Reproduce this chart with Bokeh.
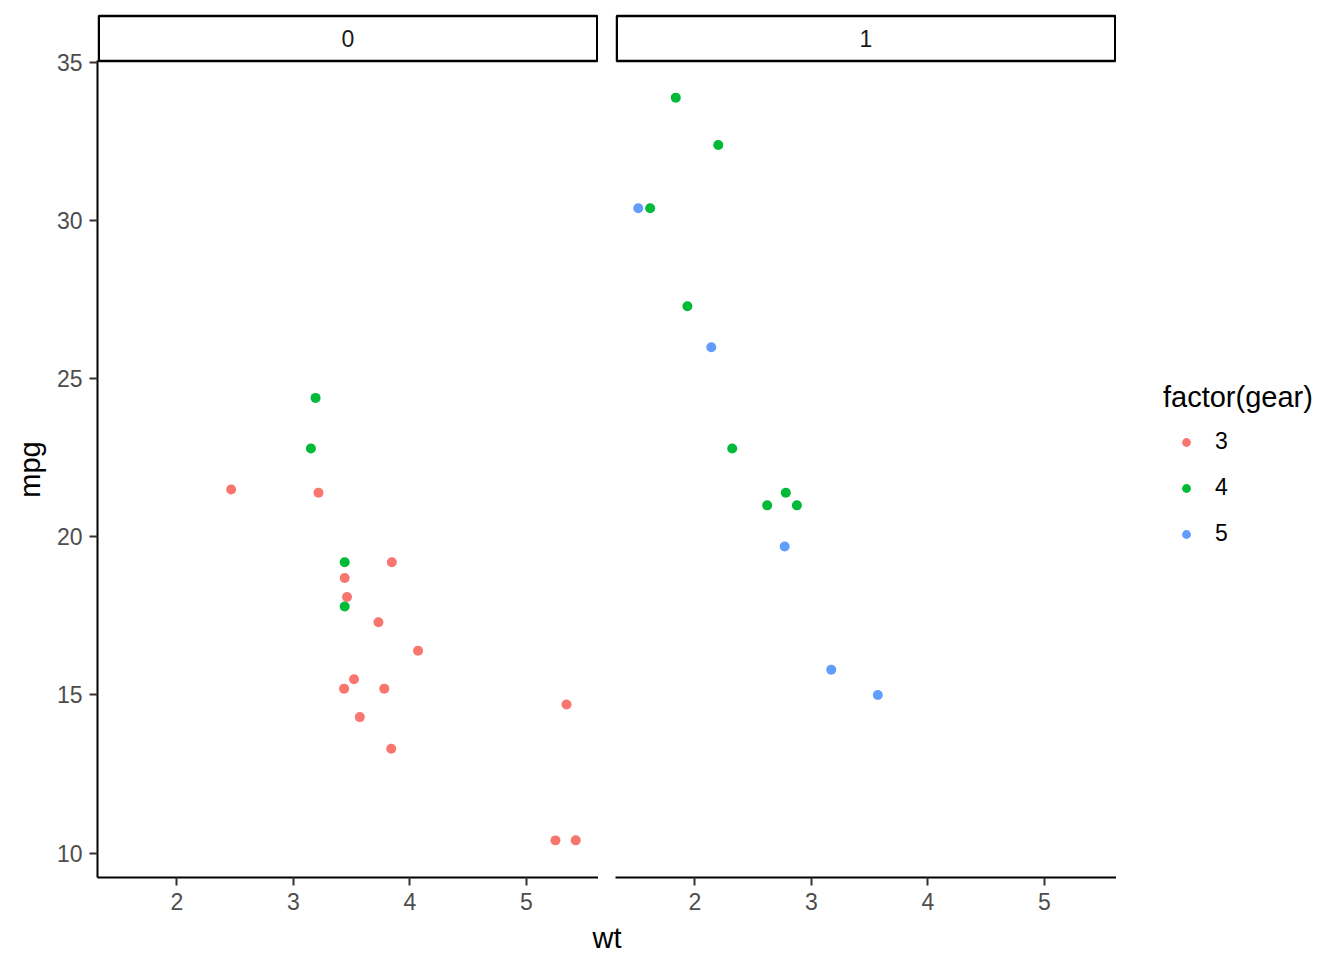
import math
from bokeh.plotting import figure
from bokeh.models import Range1d, FixedTicker, Legend, LegendItem, ColumnDataSource
from bokeh.layouts import row, column
from bokeh.embed import file_html
from bokeh.resources import INLINE
from bokeh.core.properties import value

# mtcars: weight (1000 lbs), miles per gallon, transmission (am), gears
wt = [2.620, 2.875, 2.320, 3.215, 3.440, 3.460, 3.570, 3.190, 3.150, 3.440, 3.440,
      4.070, 3.730, 3.780, 5.250, 5.424, 5.345, 2.200, 1.615, 1.835, 2.465, 3.520,
      3.435, 3.840, 3.845, 1.935, 2.140, 1.513, 3.170, 2.770, 3.570, 2.780]
mpg = [21.0, 21.0, 22.8, 21.4, 18.7, 18.1, 14.3, 24.4, 22.8, 19.2, 17.8,
       16.4, 17.3, 15.2, 10.4, 10.4, 14.7, 32.4, 30.4, 33.9, 21.5, 15.5,
       15.2, 13.3, 19.2, 27.3, 26.0, 30.4, 15.8, 19.7, 15.0, 21.4]
am = [1, 1, 1, 0, 0, 0, 0, 0, 0, 0, 0,
      0, 0, 0, 0, 0, 0, 1, 1, 1, 0, 0,
      0, 0, 0, 1, 1, 1, 1, 1, 1, 1]
gear = [4, 4, 4, 3, 3, 3, 3, 4, 4, 4, 4,
        3, 3, 3, 3, 3, 3, 4, 4, 4, 3, 3,
        3, 3, 3, 4, 5, 5, 5, 5, 5, 4]

panels = [0, 1]
gears = [3, 4, 5]
gear_colors = ["#F8766D", "#00BA38", "#619CFF"]
x_ticks = [2, 3, 4, 5]
y_ticks = [10, 15, 20, 25, 30, 35]

FONT = "Liberation Sans"
TICK_SIZE = "23px"
TITLE_SIZE = "29px"
POINT_SIZE = 10

# ggplot-like 5% expansion
xmin, xmax = min(wt), max(wt)
ymin, ymax = min(mpg), max(mpg)
X0 = xmin - 0.05 * (xmax - xmin)
X1 = xmax + 0.05 * (xmax - xmin)
Y0 = ymin - 0.05 * (ymax - ymin)
Y1 = ymax + 0.05 * (ymax - ymin)

# layout (pixels)
W_TOTAL, H_TOTAL = 1344, 960
YLAB_W = 47
LEFT_B = 97            # page x of first panel's left edge
GAP = 17               # space between panels
FRAME_W = 501
PANEL_TOP = 60         # page y of the panel top (strip above it)
PANEL_BOTTOM = 877     # page y of the x axis
BOTTOM_B = 45
ROW_H = PANEL_BOTTOM + BOTTOM_B
XLAB_H = H_TOTAL - ROW_H
W0 = LEFT_B + FRAME_W - YLAB_W
W1 = GAP + FRAME_W
W2 = W_TOTAL - YLAB_W - W0 - W1
STRIP_TOP, STRIP_BOT = 15.5, 60.5

ppx = FRAME_W / (X1 - X0)
ppy = (PANEL_BOTTOM - PANEL_TOP) / (Y1 - Y0)


def y_of(px):
    return Y0 + (PANEL_BOTTOM - px) / ppy


def blank(width, height, xr, yr, **kw):
    f = figure(width=width, height=height, x_range=xr, y_range=yr,
               output_backend="svg", toolbar_location=None,
               x_axis_type=None, y_axis_type=None, min_border=0, **kw)
    f.outline_line_color = None
    f.grid.visible = False
    return f


yr = Range1d(Y0, y_of(0))


def make_panel(am_val, first):
    p = figure(width=W0 if first else W1, height=ROW_H,
               x_range=Range1d(X0, X1), y_range=yr,
               output_backend="svg", toolbar_location=None,
               min_border_left=(LEFT_B - YLAB_W) if first else GAP, min_border_right=0,
               min_border_top=0, min_border_bottom=BOTTOM_B)
    p.outline_line_color = None
    p.grid.visible = False
    for ax in [p.xaxis[0], p.yaxis[0]]:
        ax.axis_line_color = "black"
        ax.axis_line_width = 2
        ax.major_tick_line_color = "#333333"
        ax.major_tick_line_width = 2
        ax.major_tick_out = 8
        ax.major_tick_in = 0
        ax.minor_tick_line_color = None
        ax.major_label_text_font = FONT
        ax.major_label_text_font_size = TICK_SIZE
        ax.major_label_text_color = "#4D4D4D"
    p.xaxis.ticker = FixedTicker(ticks=x_ticks)
    p.yaxis.ticker = FixedTicker(ticks=y_ticks)
    p.yaxis.bounds = (Y0, Y1)
    p.xaxis.major_label_standoff = 7
    p.yaxis.major_label_standoff = 7
    if not first:
        p.yaxis.visible = False

    # facet strip
    sl, sr = X0 + 1.25 / ppx, X1 - 1.25 / ppx
    sb, st = y_of(STRIP_BOT), y_of(STRIP_TOP)
    p.quad(left=[sl], right=[sr], bottom=[sb], top=[st],
           fill_color="white", line_color="black", line_width=2.5)
    p.text(x=[(sl + sr) / 2], y=[(sb + st) / 2], text=[str(am_val)],
           text_font=value(FONT), text_font_size=TICK_SIZE, text_color="#1A1A1A",
           text_align="center", text_baseline="middle")

    for g, c in zip(gears, gear_colors):
        idx = [i for i in range(len(wt)) if am[i] == am_val and gear[i] == g]
        src = ColumnDataSource(dict(x=[wt[i] for i in idx], y=[mpg[i] for i in idx]))
        p.scatter("x", "y", source=src, size=POINT_SIZE, fill_color=c, line_color=None)
    return p


p0 = make_panel(panels[0], True)
p1 = make_panel(panels[1], False)

# ---- y axis title (frame spans the panel rows, 0..PANEL_BOTTOM) ----
ylab = blank(YLAB_W, ROW_H, Range1d(0, YLAB_W), Range1d(0, PANEL_BOTTOM),
             min_border_bottom=BOTTOM_B)
ylab.text(x=[29], y=[PANEL_BOTTOM - 469], text=["mpg"], angle=[math.pi / 2],
          text_font=value(FONT), text_font_size=TITLE_SIZE, text_color="black",
          text_align="center", text_baseline="middle")

# ---- legend ----
p2 = blank(W2, ROW_H, Range1d(X0, X1), Range1d(Y0, Y1), min_border_bottom=BOTTOM_B)
items = []
for g, c in zip(gears, gear_colors):
    idx = [i for i in range(len(wt)) if gear[i] == g]
    src = ColumnDataSource(dict(x=[wt[i] for i in idx], y=[mpg[i] for i in idx]))
    r = p2.scatter("x", "y", source=src, size=POINT_SIZE, fill_color=c, line_color=None)
    r.visible = False
    items.append(LegendItem(label=str(g), renderers=[r]))

legend = Legend(items=items, title="factor(gear)", location=(47, 330))
legend.title_text_font = FONT
legend.title_text_font_size = TITLE_SIZE
legend.title_text_font_style = "normal"
legend.title_text_color = "black"
legend.title_standoff = 14
legend.label_text_font = FONT
legend.label_text_font_size = TICK_SIZE
legend.label_text_color = "black"
legend.glyph_width = 46
legend.glyph_height = 22
legend.label_height = 22
legend.label_standoff = 6
legend.spacing = 19
legend.padding = 0
legend.margin = 0
legend.border_line_color = None
legend.background_fill_alpha = 0
legend.inactive_fill_alpha = 0
p2.add_layout(legend)

# ---- x axis title ----
xlab = blank(LEFT_B + 2 * FRAME_W + GAP, XLAB_H,
             Range1d(0, LEFT_B + 2 * FRAME_W + GAP), Range1d(XLAB_H, 0))
xlab.text(x=[LEFT_B + FRAME_W + GAP / 2], y=[15], text=["wt"],
          text_font=value(FONT), text_font_size=TITLE_SIZE, text_color="black",
          text_align="center", text_baseline="middle")

layout = column(row(ylab, p0, p1, p2), xlab)
open("out.html", "w").write(file_html(layout, INLINE))
